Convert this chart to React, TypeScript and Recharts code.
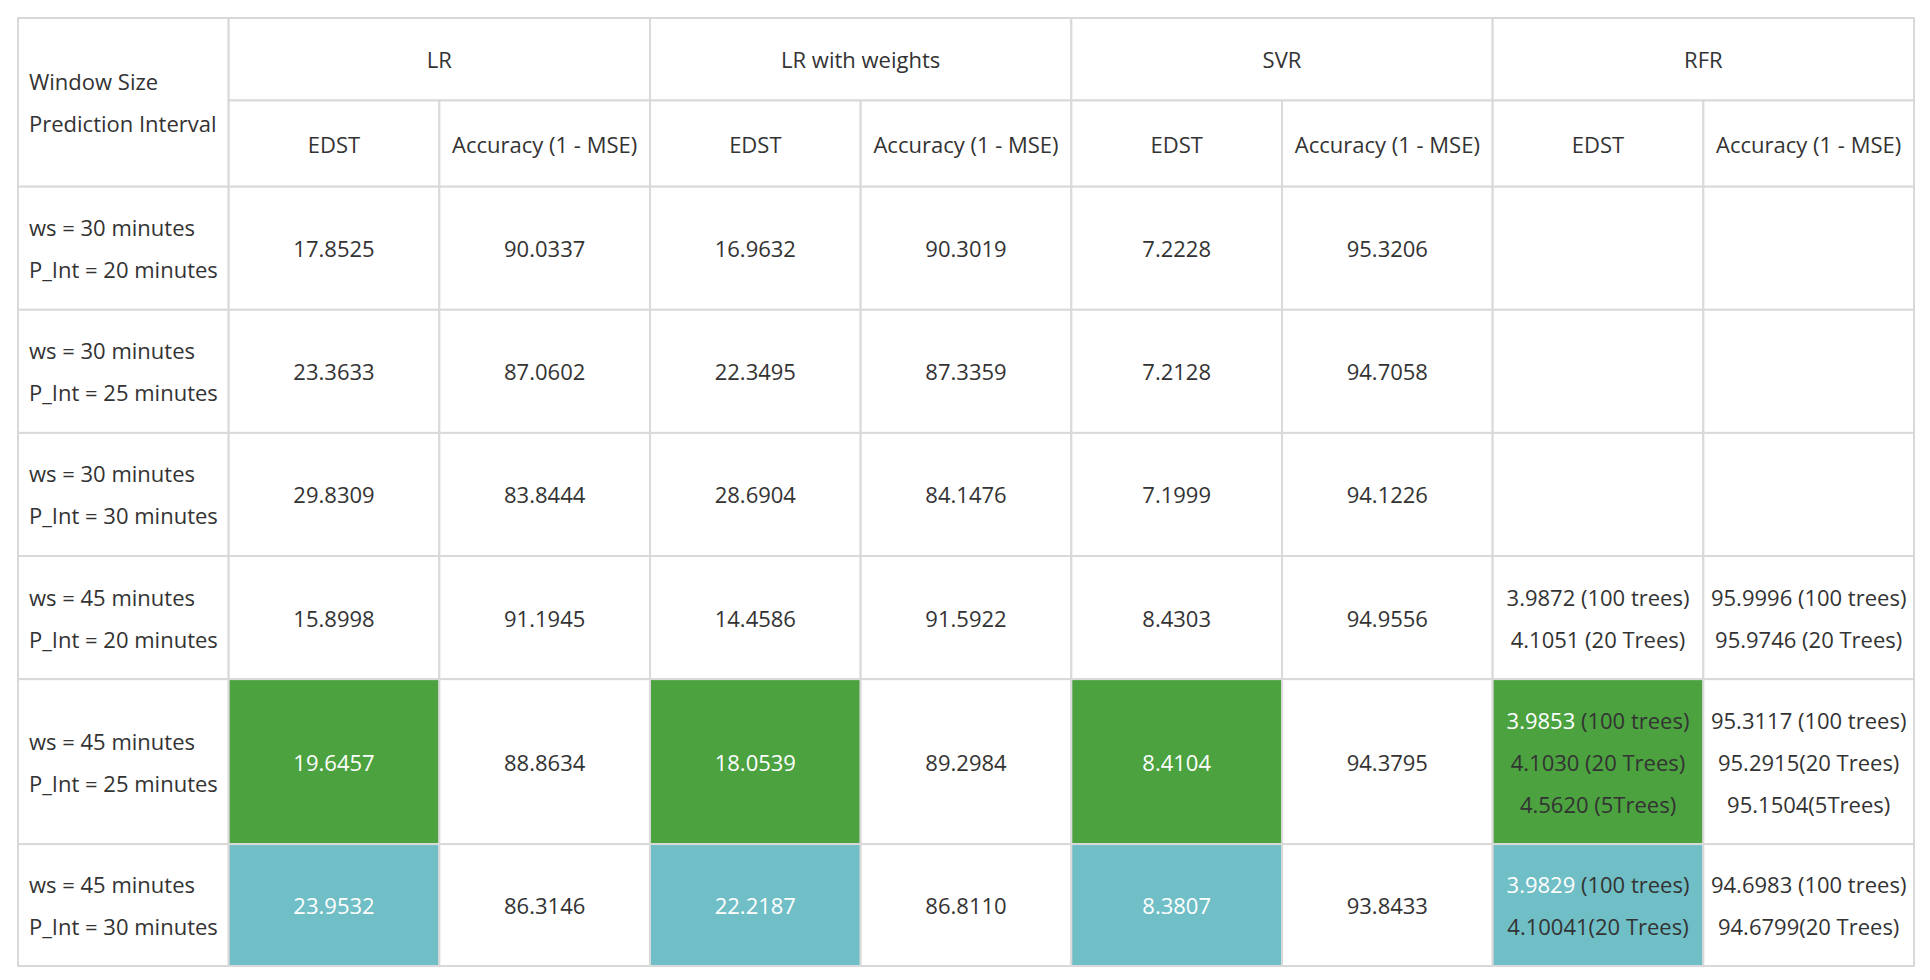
import React from "react"
import { ScatterChart, Scatter, XAxis, YAxis } from "recharts"

// table data
const models = ["LR", "LR with weights", "SVR", "RFR"]
const metrics = ["EDST", "Accuracy (1 - MSE)"]
const rowLabels = [
  ["ws = 30 minutes", "P_Int = 20 minutes"],
  ["ws = 30 minutes", "P_Int = 25 minutes"],
  ["ws = 30 minutes", "P_Int = 30 minutes"],
  ["ws = 45 minutes", "P_Int = 20 minutes"],
  ["ws = 45 minutes", "P_Int = 25 minutes"],
  ["ws = 45 minutes", "P_Int = 30 minutes"],
]
const lrEdst = ["17.8525", "23.3633", "29.8309", "15.8998", "19.6457", "23.9532"]
const lrAcc = ["90.0337", "87.0602", "83.8444", "91.1945", "88.8634", "86.3146"]
const lrwEdst = ["16.9632", "22.3495", "28.6904", "14.4586", "18.0539", "22.2187"]
const lrwAcc = ["90.3019", "87.3359", "84.1476", "91.5922", "89.2984", "86.8110"]
const svrEdst = ["7.2228", "7.2128", "7.1999", "8.4303", "8.4104", "8.3807"]
const svrAcc = ["95.3206", "94.7058", "94.1226", "94.9556", "94.3795", "93.8433"]
const rfrEdst = [
  [], [], [],
  ["3.9872 (100 trees)", "4.1051 (20 Trees)"],
  ["3.9853 (100 trees)", "4.1030 (20 Trees)", "4.5620 (5Trees)"],
  ["3.9829 (100 trees)", "4.10041(20 Trees)"],
]
const rfrAcc = [
  [], [], [],
  ["95.9996 (100 trees)", "95.9746 (20 Trees)"],
  ["95.3117 (100 trees)", "95.2915(20 Trees)", "95.1504(5Trees)"],
  ["94.6983 (100 trees)", "94.6799(20 Trees)"],
]
// highlighted rows: 4 = green, 5 = teal (EDST columns)
const highlight: Record<number, string> = { 4: "#4ba23f", 5: "#70bec6" }

// layout (row heights in table units)
const rowHeights = [67, 70, 100, 100, 100, 100, 100, 134, 99].slice(0, 2).concat([100, 100, 100, 100, 134, 99])
const W = 1930, H = 980
const left = 18, top = 18, right = 1914, bottom = 966
const totalH = rowHeights.reduce((a, b) => a + b, 0)
const colPx = (right - left) / 9
const rowPx = (bottom - top) / totalH
const FONT = "'Liberation Sans Narrow', 'Open Sans', sans-serif"

type CellT = { x: number; y: number; w: number; h: number; lines: string[]; fill: string; align: "left" | "center"; firstWhite?: boolean; white?: boolean }

const rowStart = (i: number) => rowHeights.slice(0, i).reduce((a, b) => a + b, 0)
const cells: CellT[] = []
const add = (col: number, span: number, row: number, rspan: number, lines: string[], fill = "#fff", align: "left" | "center" = "center", extra: Partial<CellT> = {}) => {
  const y0 = rowStart(row)
  const h = rowHeights.slice(row, row + rspan).reduce((a, b) => a + b, 0)
  cells.push({ x: col + span / 2, y: y0 + h / 2, w: span, h, lines, fill, align, ...extra })
}
add(0, 1, 0, 2, ["Window Size", "Prediction Interval"], "#fff", "left")
models.forEach((m, i) => {
  add(1 + i * 2, 2, 0, 1, [m])
  metrics.forEach((k, j) => add(1 + i * 2 + j, 1, 1, 1, [k]))
})
const cols = [lrEdst, lrAcc, lrwEdst, lrwAcc, svrEdst, svrAcc]
rowLabels.forEach((lab, r) => {
  add(0, 1, r + 2, 1, lab, "#fff", "left")
  cols.forEach((c, ci) => {
    const hl = ci % 2 === 0 ? highlight[r] : undefined
    add(1 + ci, 1, r + 2, 1, [c[r]], hl ?? "#fff", "center", { white: !!hl })
  })
  add(7, 1, r + 2, 1, rfrEdst[r], highlight[r] ?? "#fff", "center", { firstWhite: !!highlight[r] })
  add(8, 1, r + 2, 1, rfrAcc[r])
})

const CellShape = (props: any) => {
  const { cx, cy, payload } = props
  const p = payload as CellT
  const w = p.w * colPx, h = p.h * rowPx
  const x0 = cx - w / 2, y0 = cy - h / 2
  const lh = 42
  const startY = cy - ((p.lines.length - 1) * lh) / 2
  const tx = p.align === "left" ? x0 + 11 : cx
  return (
    <g>
      <rect x={x0} y={y0} width={w} height={h} fill={p.fill} stroke="#d9d9d9" strokeWidth={2} />
      {p.lines.map((t, i) => {
        const color = p.white ? "#fff" : "#333"
        if (p.firstWhite && i === 0) {
          const [a, ...rest] = t.split(" ")
          return (
            <text key={i} x={tx} y={startY + i * lh} textAnchor="middle" dominantBaseline="central" fontSize={22} fontFamily={FONT}>
              <tspan fill="#fff">{a}</tspan><tspan fill="#333">{" " + rest.join(" ")}</tspan>
            </text>
          )
        }
        return (
          <text key={i} x={tx} y={startY + i * lh} textAnchor={p.align === "left" ? "start" : "middle"} dominantBaseline="central" fontSize={22} fontFamily={FONT} fill={color}>
            {t}
          </text>
        )
      })}
    </g>
  )
}

export default function App() {
  return (
    <div style={{ position: "absolute", left: 0, top: 0, width: W, height: H, background: "#fff" }}>
      <ScatterChart width={W} height={H} margin={{ left: left, right: W - right, top: top, bottom: H - bottom }}>
        <XAxis type="number" dataKey="x" domain={[0, 9]} hide />
        <YAxis type="number" dataKey="y" domain={[0, totalH]} reversed hide />
        <Scatter data={cells} shape={CellShape} isAnimationActive={false} />
      </ScatterChart>
    </div>
  )
}
